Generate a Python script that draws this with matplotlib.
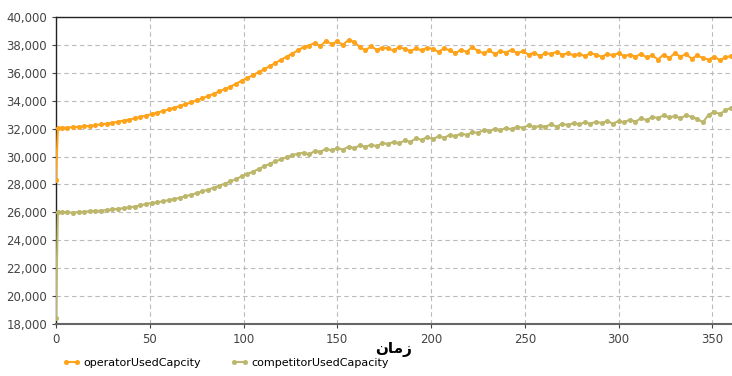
import numpy as np
import matplotlib
matplotlib.use("Agg")
import matplotlib.pyplot as plt

# time axis: first two samples, then every 3 time units up to 360
t = [0, 1] + list(range(3, 361, 3))

operator_used = [
    28300, 32050,
    32060, 32080, 32100, 32130, 32160, 32200, 32250, 32300, 32360, 32420,
    32490, 32570, 32650, 32740, 32840, 32940, 33040, 33150, 33260, 33370,
    33490, 33610, 33740, 33880, 34020, 34170, 34330, 34490, 34660, 34830,
    35010, 35200, 35440, 35620, 35830, 36040, 36250, 36480, 36700, 36930,
    37150, 37380, 37600, 37850, 37950, 38150,
    37900, 38300, 38050, 38250, 38000, 38350, 38200, 37850, 37600, 37900,
    37650, 37800, 37750, 37600, 37850, 37700, 37550, 37750, 37600, 37800,
    37700, 37500, 37750, 37600, 37400, 37650, 37500, 37850, 37550, 37400,
    37600, 37350, 37550, 37450, 37650, 37400, 37550, 37300, 37450, 37200,
    37400, 37350, 37500, 37300, 37400, 37250, 37350, 37200, 37400, 37300,
    37150, 37350, 37250, 37400, 37200, 37300, 37150, 37350, 37100, 37250,
    36950, 37300, 37050, 37400, 37150, 37350, 37000, 37250, 37050, 36950,
    37150, 36900, 37100, 37200,
]

competitor_used = [
    18450, 26000,
    26000, 26020, 25980, 26030, 26050, 26080, 26100, 26130, 26170, 26210,
    26260, 26300, 26360, 26420, 26500, 26600, 26680, 26720, 26800, 26880,
    26960, 27050, 27150, 27260, 27380, 27500, 27630, 27770, 27910, 28060,
    28220, 28390, 28580, 28740, 28920, 29100, 29300, 29480, 29650, 29800,
    29960, 30100, 30200, 30280, 30150, 30400,
    30350, 30550, 30450, 30600, 30500, 30700, 30600, 30800, 30700, 30850,
    30750, 30950, 30900, 31050, 30950, 31150, 31050, 31300, 31200, 31400,
    31250, 31450, 31350, 31550, 31450, 31650, 31550, 31750, 31700, 31900,
    31800, 32000, 31900, 32050, 31950, 32150, 32050, 32250, 32100, 32200,
    32150, 32300, 32150, 32350, 32250, 32400, 32300, 32450, 32350, 32500,
    32400, 32550, 32350, 32550, 32450, 32650, 32500, 32750, 32600, 32850,
    32750, 32950, 32800, 32900, 32750, 32950, 32850, 32700, 32450, 33000,
    33200, 33050, 33300, 33500,
]

x_ticks = [0, 50, 100, 150, 200, 250, 300, 350]
y_ticks = list(range(18000, 40001, 2000))

ORANGE = "#FFA31A"
KHAKI = "#BDB76B"

fig = plt.figure(figsize=(7.32, 3.76), dpi=100)
ax = fig.add_axes([0.0765, 0.138, 0.9235, 0.817])

ax.plot(t, operator_used, color=ORANGE, lw=1.5, marker="o", ms=2.6,
        mec=ORANGE, label="operatorUsedCapcity", zorder=3)
ax.plot(t, competitor_used, color=KHAKI, lw=1.5, marker="o", ms=2.6,
        mec=KHAKI, label="competitorUsedCapacity", zorder=3)

ax.set_xlim(0, 360.5)
ax.set_ylim(18000, 40000)
ax.set_xticks(x_ticks)
ax.set_yticks(y_ticks)
ax.set_yticklabels([f"{v:,}" for v in y_ticks])
ax.tick_params(labelsize=8.5, colors="#444444", length=3, width=0.8)
ax.grid(True, linestyle=(0, (4, 3)), color="#BBBBBB", lw=0.8)

for side in ("top", "left"):
    ax.spines[side].set_color("#222222")
    ax.spines[side].set_linewidth(1.0)
ax.spines["bottom"].set_color("#666666")
ax.spines["bottom"].set_linewidth(1.5)
ax.spines["right"].set_visible(False)

# Persian axis title, written in presentation forms so it renders joined
ax.set_xlabel("\uFEE5\uFE8E\uFEE3\uFEAF", fontsize=11, fontweight="bold",
              family=["DejaVu Sans"], labelpad=-3)

fig.legend(loc="lower left", bbox_to_anchor=(0.072, -0.005), ncol=2,
           frameon=False, fontsize=8, numpoints=2, handlelength=1.6,
           handletextpad=0.3, columnspacing=2.6)

fig.savefig("out.png", dpi=100)
